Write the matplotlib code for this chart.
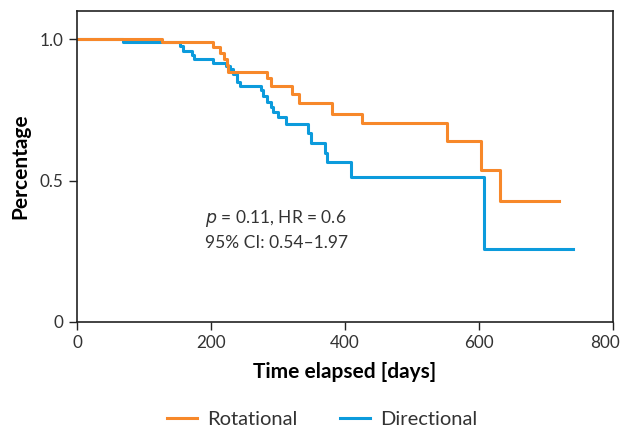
import matplotlib.pyplot as plt
from matplotlib.transforms import ScaledTranslation

plt.rcParams['font.family'] = ['Lato', 'DejaVu Sans']

# Kaplan-Meier steps (days, survival)
rot_days = [0, 127, 203, 213, 219, 224, 225, 284, 290, 321, 331, 381, 425, 552, 603, 631, 719]
rot_surv = [1.0, 0.989, 0.972, 0.951, 0.929, 0.908, 0.883, 0.862, 0.834, 0.806, 0.774,
            0.735, 0.703, 0.640, 0.537, 0.428, 0.428]

dir_days = [0, 69, 154, 158, 172, 175, 203, 222, 228, 233, 239, 243, 275, 278, 284, 290,
            293, 300, 312, 345, 349, 370, 373, 409, 607, 740]
dir_surv = [1.0, 0.989, 0.975, 0.958, 0.943, 0.929, 0.915, 0.905, 0.894, 0.876, 0.848,
            0.834, 0.820, 0.799, 0.777, 0.760, 0.742, 0.724, 0.700, 0.668, 0.633, 0.597,
            0.565, 0.512, 0.258, 0.258]

orange = '#F7882A'
blue = '#0C9BDC'

fig = plt.figure(figsize=(6.25, 4.28), dpi=100)
ax = fig.add_axes([0.1232, 0.2477, 0.8576, 0.7263])

ax.plot(dir_days, dir_surv, drawstyle='steps-post', color=blue, lw=2.2, label='Directional')
ax.plot(rot_days, rot_surv, drawstyle='steps-post', color=orange, lw=2.2, label='Rotational')

ax.set_xlim(0, 800)
ax.set_ylim(0, 1.1)
ax.set_xticks([0, 200, 400, 600, 800])
ax.set_yticks([0, 0.5, 1.0])
ax.set_yticklabels(['0', '0.5', '1.0'])
ax.tick_params(labelsize=12.3, colors='#222222', length=6, width=1, direction='out')
ax.tick_params(axis='both', labelcolor='#333333')
for s in ax.spines.values():
    s.set_linewidth(1.2)
    s.set_color('#222222')

# last x label sits a little left of its tick so it stays inside the image
last = ax.get_xticklabels()[-1]
last.set_transform(last.get_transform() + ScaledTranslation(-6 / 72, 0, fig.dpi_scale_trans))

ax.set_xlabel('Time elapsed [days]', fontsize=15, fontweight='bold', labelpad=8)
ax.set_ylabel('Percentage', fontsize=15, fontweight='bold', labelpad=7)

ax.text(191, 0.367, r'$\it{p}$ = 0.11, HR = 0.6', fontsize=12.5, color='#333333', va='center')
ax.text(191, 0.278, '95% CI: 0.54\u20131.97', fontsize=12.5, color='#333333', va='center')

handles, labels = ax.get_legend_handles_labels()
fig.legend(handles[::-1], labels[::-1], loc='lower center', bbox_to_anchor=(0.515, -0.042),
           ncol=2, frameon=False, fontsize=14.5, handlelength=1.5, handletextpad=0.5,
           columnspacing=2.1, labelcolor='#333333')

fig.savefig('out.png')
